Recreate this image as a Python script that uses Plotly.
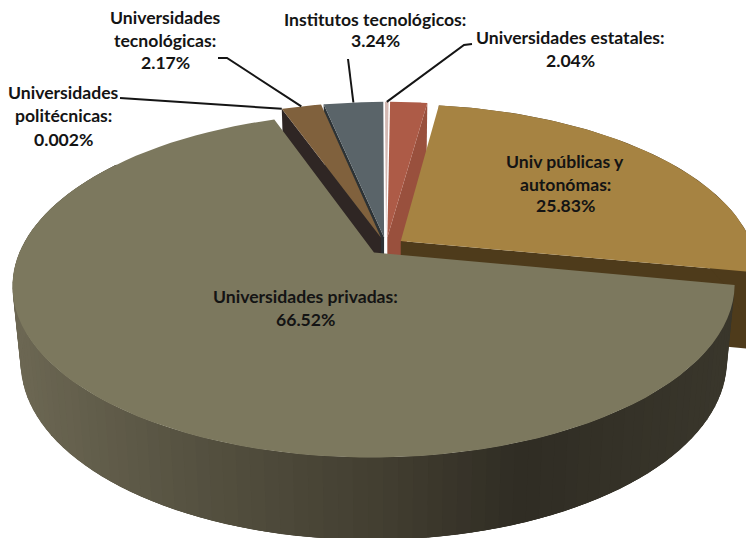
import numpy as np
import plotly.graph_objects as go

# Shares of enrolment by type of institution (percent), clockwise from the top
estatales = 2.04
publicas = 25.83
privadas = 66.52
politecnicas = 0.002
tecnologicas = 2.17
institutos = 3.24
sin_clasificar = 100 - (estatales + publicas + privadas + politecnicas + tecnologicas + institutos)

shares = [estatales, publicas, privadas, politecnicas, tecnologicas, institutos, sin_clasificar]
names = ["estatales", "publicas", "privadas", "politecnicas", "tecnologicas", "institutos", "resto"]

top_colors = dict(estatales="#ad5b47", publicas="#a68342", privadas="#7c785e", politecnicas="#7c785e",
                  tecnologicas="#80613d", institutos="#5a6469", resto="#d3b8b2")
side_colors = dict(estatales="#99503d", publicas="#4e3b1b", tecnologicas="#2f2624", institutos="#2c3235")

# Perspective camera of the tilted pie
X0, Y0, AX, AY, PERSP = 386.0, 246.0, 352.0, 164.0, 0.187
EXPLODE = 0.052
START_DEG = 0.5


def project(mx, my, depth=0.0):
    s = 1 / (1 + PERSP * my)
    x = X0 + AX * mx * s
    y = Y0 - AY * my * s
    if depth:
        x = X0 + (x - X0) * (1 - 0.022 * depth)
        y = y + (75 - 7 * my) * depth
    return x, y


def offset_of(a, b):
    mid = np.radians((a + b) / 2)
    return EXPLODE * np.sin(mid), EXPLODE * np.cos(mid)


def rim(theta, off, depth=0.0):
    t = np.radians(theta)
    return project(off[0] + np.sin(t), off[1] + np.cos(t), depth)


spans = {}
angle = START_DEG
for name, share in zip(names, shares):
    spans[name] = (angle, angle + share * 3.6)
    angle += share * 3.6

fig = go.Figure()


def add_poly(xs, ys, color, line_w=0.0, line_color=None):
    fig.add_trace(go.Scatter(x=list(xs), y=list(ys), mode="lines", fill="toself", fillcolor=color,
                             line=dict(width=line_w, color=line_color or color),
                             hoverinfo="skip", showlegend=False))


def top_face(name, line_w=0.0, line_color=None):
    a, b = spans[name]
    off = offset_of(a, b)
    pts = [project(*off)] + [rim(t, off) for t in np.linspace(a, b, 90)]
    add_poly([p[0] for p in pts], [p[1] for p in pts], top_colors[name], line_w, line_color)


def radial_wall(name, theta):
    a, b = spans[name]
    off = offset_of(a, b)
    centre_top, centre_low = project(*off), project(*off, 1.0)
    edge_top, edge_low = rim(theta, off), rim(theta, off, 1.0)
    add_poly([centre_top[0], edge_top[0], edge_low[0], centre_low[0]],
             [centre_top[1], edge_top[1], edge_low[1], centre_low[1]], side_colors[name])


# Far slices first, so nearer ones paint over them
radial_wall("institutos", spans["institutos"][0])
top_face("institutos")
radial_wall("tecnologicas", spans["tecnologicas"][0])
top_face("tecnologicas")
radial_wall("estatales", spans["estatales"][1])
top_face("resto")
top_face("estatales")

# Public universities: cut face and the sliver of outer wall on the right
a, b = spans["publicas"]
off = offset_of(a, b)
radial_wall("publicas", b)
arc = np.linspace(a, b, 60)
upper = [rim(t, off) for t in arc]
lower = [rim(t, off, 1.0) for t in arc[::-1]]
add_poly([p[0] for p in upper + lower], [p[1] for p in upper + lower], side_colors["publicas"])
top_face("publicas")

# Private universities: outer wall, strips overlap so no seams show between shades
WALL_X = [20, 190, 370, 520, 735]
WALL_R = [108, 86, 68, 48, 58]
WALL_G = [103, 82, 64, 45, 55]
WALL_B = [83, 65, 50, 36, 44]
a, b = spans["privadas"]
off = offset_of(a, b)
edges = np.linspace(a, a + 205, 104)
step = edges[1] - edges[0]
for t0, t1 in zip(edges[:-1], edges[1:]):
    tail = min(t1 + 2 * step, edges[-1])
    p = [rim(t0, off), rim(tail, off), rim(tail, off, 1.0), rim(t0, off, 1.0)]
    mid0, mid1 = rim(t0, off), rim(t1, off)
    xm = (mid0[0] + mid1[0]) / 2
    color = "rgb(%d,%d,%d)" % (np.interp(xm, WALL_X, WALL_R), np.interp(xm, WALL_X, WALL_G),
                               np.interp(xm, WALL_X, WALL_B))
    add_poly([q[0] for q in p], [q[1] for q in p], color)
top_face("privadas")


def rim_point(name, frac):
    a, b = spans[name]
    return rim(a + (b - a) * frac, offset_of(a, b))


# Leader lines run from each label to the rim of its slice
leaders = [
    ((120, 98), None, rim_point("tecnologicas", 0.0)),
    ((218, 58), (227, 58), rim_point("tecnologicas", 0.5)),
    ((348, 59), None, rim_point("institutos", 0.5)),
    ((472, 44), (464, 45), rim_point("resto", 0.5)),
]
for start, bend, end in leaders:
    pts = [start] + ([bend] if bend else []) + [end]
    fig.add_trace(go.Scatter(x=[q[0] for q in pts], y=[q[1] for q in pts], mode="lines",
                             line=dict(color="#151515", width=2), hoverinfo="skip", showlegend=False))

# Label text, one entry per row: centre x, row-centre y, text
label_rows = [
    (165, 17, "Universidades"), (165, 40, "tecnológicas:"), (165, 62, "2.17%"),
    (63, 92, "Universidades"), (63, 115, "politécnicas:"), (63, 139, "0.002%"),
    (375, 19, "Institutos tecnológicos:"), (375, 40, "3.24%"),
    (570, 37, "Universidades estatales:"), (570, 60, "2.04%"),
    (565, 161, "Univ públicas y"), (565, 184, "autonómas:"), (565, 205, "25.83%"),
    (305, 296, "Universidades privadas:"), (305, 319, "66.52%"),
]
annotations = [dict(x=x, y=y, xref="x", yref="y", text=t, showarrow=False, xanchor="center", yanchor="middle",
                    font=dict(family="Lato", size=17.6, color="#141414", weight="bold"))
               for x, y, t in label_rows]

fig.update_layout(
    width=746, height=538, autosize=False,
    margin=dict(l=0, r=0, t=0, b=0),
    paper_bgcolor="white", plot_bgcolor="white",
    xaxis=dict(range=[0, 746], visible=False, fixedrange=True),
    yaxis=dict(range=[538, 0], visible=False, fixedrange=True),
    annotations=annotations,
    showlegend=False,
)
fig.write_html("out.html", config=dict(displayModeBar=False))
